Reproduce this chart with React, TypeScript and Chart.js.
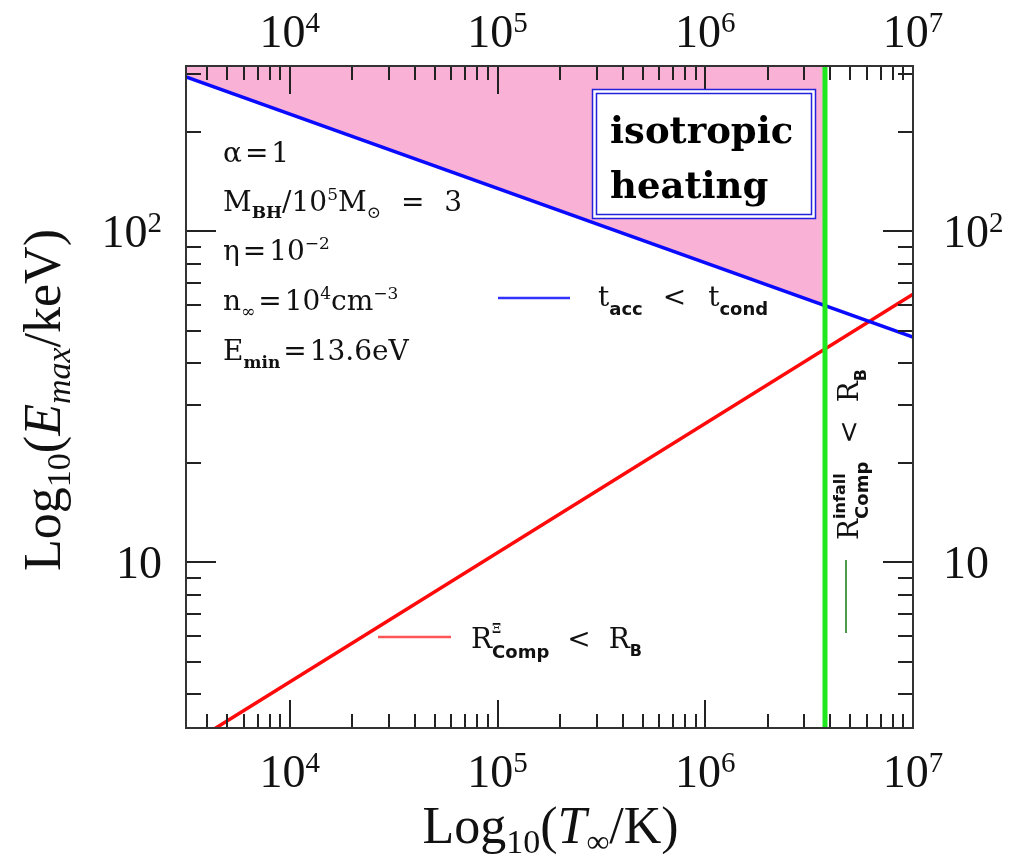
import React, { useEffect, useRef } from "react";
import { Chart, registerables } from "chart.js";

Chart.register(...registerables);

// ---- axis ranges ----
const T_MIN = 3162;
const T_MAX = 1e7;
const E_MIN = 3.162;
const E_MAX = 316.2;

// ---- series ----
const blueT = [3162, 1e7];
const blueE = [293, 48];
const redT = [3162, 1e7];
const redE = [2.78, 64.6];
const greenT = [3.77e6, 3.77e6];
const greenE = [3.162, 316.2];
const fillT = [3162, 3.77e6];
const fillE = [293, 59.8];

// ---- tick labels ----
const xMajorTicks = [1e4, 1e5, 1e6, 1e7];
const xMajorExp = ["4", "5", "6", "7"];
const yMajorTicks = [10, 100];
const yMajorExp = ["", "2"];
const xMinorTicks = [4e3, 5e3, 6e3, 7e3, 8e3, 9e3, 2e4, 3e4, 4e4, 5e4, 6e4, 7e4, 8e4, 9e4, 2e5, 3e5, 4e5, 5e5, 6e5, 7e5, 8e5, 9e5, 2e6, 3e6, 4e6, 5e6, 6e6, 7e6, 8e6, 9e6];
const yMinorTicks = [4, 5, 6, 7, 8, 9, 20, 30, 40, 50, 60, 70, 80, 90, 200, 300];

const TXT = '"DejaVu Serif", serif';
const SANS = '"DejaVu Sans", sans-serif';
const AX = '"Liberation Serif", serif';

type Part = { t: string; size: number; fam?: string; w?: string; it?: boolean; dy?: number; gap?: number; stack?: boolean };

function fontOf(p: Part) {
  return `${p.it ? "italic " : ""}${p.w || "normal"} ${p.size}px ${p.fam || TXT}`;
}

function layoutRich(ctx: CanvasRenderingContext2D, parts: Part[]) {
  let cur = 0, lastStart = 0, lastW = 0;
  const pos: number[] = [];
  for (const p of parts) {
    ctx.font = fontOf(p);
    const w = ctx.measureText(p.t).width;
    let x: number;
    if (p.stack) {
      x = lastStart;
      lastW = Math.max(lastW, w);
      cur = lastStart + lastW;
    } else {
      x = cur + (p.gap || 0);
      cur = x + w;
      lastStart = x;
      lastW = w;
    }
    pos.push(x);
  }
  return { pos, width: cur };
}

function drawRich(ctx: CanvasRenderingContext2D, x: number, y: number, parts: Part[], align: string = "left") {
  const { pos, width } = layoutRich(ctx, parts);
  const ox = align === "center" ? x - width / 2 : align === "right" ? x - width : x;
  ctx.textAlign = "left";
  ctx.textBaseline = "alphabetic";
  parts.forEach((p, i) => {
    ctx.font = fontOf(p);
    ctx.fillText(p.t, ox + pos[i], y + (p.dy || 0));
  });
}

const decorPlugin = {
  id: "decor",
  afterDraw(chart: any) {
    const { ctx, chartArea: a, scales } = chart;
    const xs = scales.x, ys = scales.y;
    ctx.save();

    // ---- ticks (inward, all four sides) ----
    ctx.strokeStyle = "#222";
    ctx.lineWidth = 2;
    const seg = (x1: number, y1: number, x2: number, y2: number) => {
      ctx.beginPath(); ctx.moveTo(x1, y1); ctx.lineTo(x2, y2); ctx.stroke();
    };
    const xt = (v: number, len: number) => {
      const px = Math.round(xs.getPixelForValue(v));
      seg(px, a.bottom, px, a.bottom - len);
      seg(px, a.top, px, a.top + len);
    };
    const yt = (v: number, len: number) => {
      const py = Math.round(ys.getPixelForValue(v));
      seg(a.left, py, a.left + len, py);
      seg(a.right, py, a.right - len, py);
    };
    xMinorTicks.forEach((v) => xt(v, 14));
    xMajorTicks.forEach((v) => xt(v, 28));
    yMinorTicks.forEach((v) => yt(v, 15));
    yMajorTicks.forEach((v) => yt(v, 30));

    // ---- frame ----
    ctx.strokeStyle = "#333";
    ctx.lineWidth = 2;
    ctx.strokeRect(a.left, a.top, a.right - a.left, a.bottom - a.top);

    ctx.fillStyle = "#111";
    // ---- tick labels ----
    xMajorTicks.forEach((v, i) => {
      const px = xs.getPixelForValue(v);
      const parts: Part[] = [
        { t: "10", size: 46, fam: AX },
        { t: xMajorExp[i], size: 29, fam: AX, dy: -15 },
      ];
      drawRich(ctx, px, a.bottom + 59, parts, "center");
      drawRich(ctx, px, a.top - 19, parts, "center");
    });
    yMajorTicks.forEach((v, i) => {
      const py = ys.getPixelForValue(v);
      const parts: Part[] = [{ t: "10", size: 46, fam: AX }];
      if (yMajorExp[i]) parts.push({ t: yMajorExp[i], size: 29, fam: AX, dy: -15 });
      drawRich(ctx, a.left - 24, py + 16, parts, "right");
      drawRich(ctx, a.right + 30, py + 16, parts, "left");
    });

    // ---- axis titles ----
    const cx = (a.left + a.right) / 2;
    drawRich(ctx, cx + 1, 843, [
      { t: "Log", size: 52, fam: AX },
      { t: "10", size: 34, fam: AX, dy: 10 },
      { t: "(", size: 52, fam: AX },
      { t: "T", size: 52, fam: AX, it: true },
      { t: "∞", size: 32, fam: AX, dy: 9 },
      { t: "/K)", size: 52, fam: AX },
    ], "center");
    ctx.save();
    ctx.translate(60, (a.top + a.bottom) / 2 + 3);
    ctx.rotate(-Math.PI / 2);
    drawRich(ctx, 0, 0, [
      { t: "Log", size: 52, fam: AX },
      { t: "10", size: 34, fam: AX, dy: 10 },
      { t: "(", size: 52, fam: AX },
      { t: "E", size: 52, fam: AX, it: true },
      { t: "max", size: 34, fam: AX, it: true, dy: 10 },
      { t: "/keV)", size: 52, fam: AX },
    ], "center");
    ctx.restore();

    // ---- parameter annotations ----
    const S = 28, s = 17;
    drawRich(ctx, 223, 162, [
      { t: "α", size: S }, { t: "=", size: S, gap: 3 }, { t: "1", size: S, gap: 3 },
    ]);
    drawRich(ctx, 223, 211, [
      { t: "M", size: S }, { t: "BH", size: s, w: "bold", dy: 7 },
      { t: "/", size: S }, { t: "10", size: S }, { t: "5", size: s, dy: -11 },
      { t: "M", size: S }, { t: "⊙", size: s, dy: 7 },
      { t: "=", size: S, gap: 20 }, { t: "3", size: S, gap: 20 },
    ]);
    drawRich(ctx, 223, 260, [
      { t: "η", size: S }, { t: "=", size: S, gap: 3 }, { t: "10", size: S, gap: 3 },
      { t: "−2", size: s, dy: -11 },
    ]);
    drawRich(ctx, 223, 310, [
      { t: "n", size: S }, { t: "∞", size: s, dy: 7 },
      { t: "=", size: S, gap: 3 }, { t: "10", size: S, gap: 3 }, { t: "4", size: s, dy: -11 },
      { t: "cm", size: S }, { t: "−3", size: s, dy: -11 },
    ]);
    drawRich(ctx, 223, 360, [
      { t: "E", size: S }, { t: "min", size: s, w: "bold", dy: 8 },
      { t: "=", size: S, gap: 3 }, { t: "13.6eV", size: S, gap: 3 },
    ]);

    // ---- curve labels ----
    ctx.lineWidth = 2.5;
    ctx.strokeStyle = "#3333ff";
    seg(498, 298, 570, 298);
    drawRich(ctx, 598, 306, [
      { t: "t", size: S }, { t: "acc", size: 18, fam: SANS, w: "bold", dy: 9 },
      { t: "<", size: S, gap: 20 },
      { t: "t", size: S, gap: 22 }, { t: "cond", size: 18, fam: SANS, w: "bold", dy: 9 },
    ]);

    ctx.strokeStyle = "#ff5555";
    seg(378, 637, 451, 637);
    const rParts: Part[] = [
      { t: "R", size: S },
      { t: "Ξ", size: 13, w: "bold", dy: -15 },
      { t: "Comp", size: 18, fam: SANS, w: "bold", dy: 10, stack: true },
      { t: "<", size: S, gap: 18 },
      { t: "R", size: S, gap: 18 }, { t: "B", size: 16, fam: SANS, w: "bold", dy: 8 },
    ];
    drawRich(ctx, 471, 648, rParts);

    ctx.strokeStyle = "#4c9c4c";
    ctx.lineWidth = 2;
    seg(846, 560, 846, 633);
    ctx.save();
    ctx.translate(858, 540);
    ctx.rotate(-Math.PI / 2);
    drawRich(ctx, 0, 0, [
      { t: "R", size: S },
      { t: "infall", size: 16, fam: SANS, w: "bold", dy: -13 },
      { t: "Comp", size: 18, fam: SANS, w: "bold", dy: 10, stack: true },
      { t: "<", size: S, gap: 18 },
      { t: "R", size: S, gap: 18 }, { t: "B", size: 16, fam: SANS, w: "bold", dy: 8 },
    ]);
    ctx.restore();

    // ---- "isotropic heating" box ----
    ctx.fillStyle = "#ffffff";
    ctx.fillRect(592, 89, 224, 130);
    ctx.strokeStyle = "#2222dd";
    ctx.lineWidth = 1.5;
    ctx.strokeRect(592.5, 89.5, 223, 129);
    ctx.strokeRect(596.5, 93.5, 215, 121);
    ctx.fillStyle = "#000";
    ctx.font = `bold 37px ${TXT}`;
    ctx.textAlign = "left";
    ctx.fillText("isotropic", 610, 143);
    ctx.fillText("heating", 610, 198);

    ctx.restore();
  },
};

const pts = (xs: number[], ys: number[]) => xs.map((x, i) => ({ x, y: ys[i] }));

export default function App() {
  const ref = useRef<HTMLCanvasElement | null>(null);
  useEffect(() => {
    document.body.style.margin = "0";
    const canvas = ref.current!;
    const chart = new Chart(canvas, {
      type: "line",
      data: {
        datasets: [
          { data: pts(greenT, greenE), borderColor: "#1ee81e", borderWidth: 5, pointRadius: 0, fill: false, clip: 0 } as any,
          { data: pts(blueT, blueE), borderColor: "#0a0aff", borderWidth: 3.5, pointRadius: 0, fill: false, clip: 0 } as any,
          { data: pts(redT, redE), borderColor: "#ff0a0a", borderWidth: 3.5, pointRadius: 0, fill: false, clip: 0 } as any,
          { data: pts(fillT, fillE), borderWidth: 0, borderColor: "rgba(0,0,0,0)", backgroundColor: "#f9b1d6", pointRadius: 0, fill: "end", clip: 0 } as any,
        ],
      },
      options: {
        animation: false,
        responsive: false,
        devicePixelRatio: 1,
        layout: { padding: { left: 186, right: 98, top: 66, bottom: 132 } },
        plugins: { legend: { display: false }, tooltip: { enabled: false } },
        scales: {
          x: { type: "logarithmic", min: T_MIN, max: T_MAX, display: false },
          y: { type: "logarithmic", min: E_MIN, max: E_MAX, display: false },
        },
      },
      plugins: [decorPlugin],
    });
    return () => chart.destroy();
  }, []);
  return <canvas ref={ref} width={1011} height={860} style={{ display: "block", width: 1011, height: 860 }} />;
}
